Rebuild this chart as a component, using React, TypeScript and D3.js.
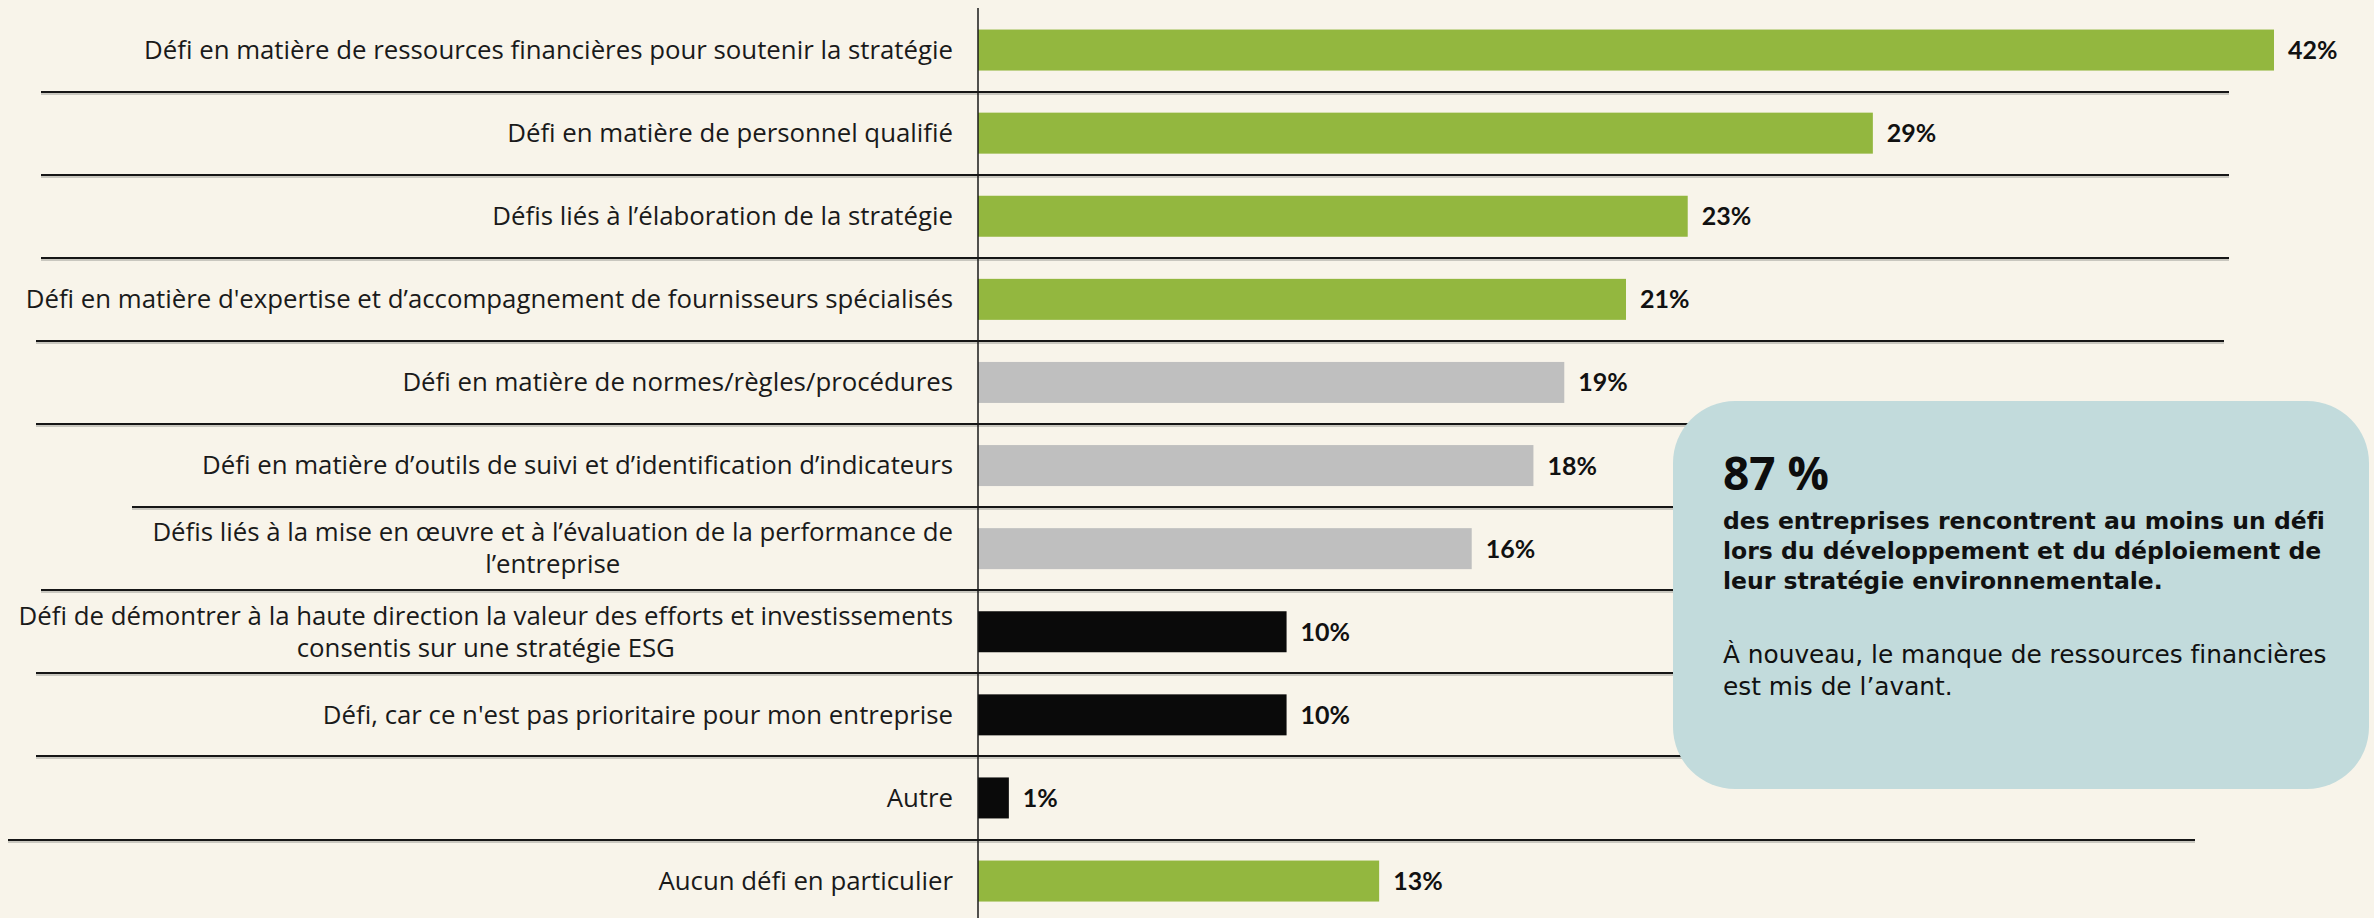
import React from "react";
import * as d3 from "d3";

const categories: string[] = [
  "Défi en matière de ressources financières pour soutenir la stratégie",
  "Défi en matière de personnel qualifié",
  "Défis liés à l’élaboration de la stratégie",
  "Défi en matière d'expertise et d’accompagnement de fournisseurs spécialisés",
  "Défi en matière de normes/règles/procédures",
  "Défi en matière d’outils de suivi et d’identification d’indicateurs",
  "Défis liés à la mise en œuvre et à l’évaluation de la performance de\nl’entreprise",
  "Défi de démontrer à la haute direction la valeur des efforts et investissements\nconsentis sur une stratégie ESG",
  "Défi, car ce n'est pas prioritaire pour mon entreprise",
  "Autre",
  "Aucun défi en particulier",
];
const values: number[] = [42, 29, 23, 21, 19, 18, 16, 10, 10, 1, 13];
const groups: string[] = ["main", "main", "main", "main", "mid", "mid", "mid", "low", "low", "low", "main"];

const calloutHeadline = "87 %";
const calloutBold: string[] = [
  "des entreprises rencontrent au moins un défi",
  "lors du développement et du déploiement de",
  "leur stratégie environnementale.",
];
const calloutRegular: string[] = [
  "À nouveau, le manque de ressources financières",
  "est mis de l’avant.",
];

const W = 2374;
const H = 918;
const BG = "#f8f4ea";
const colorMap: Record<string, string> = { main: "#93b73f", mid: "#bfbfbf", low: "#0a0a0a" };
const FONT = "'Open Sans', 'Noto Sans', sans-serif";
const VFONT = "Lato, 'Noto Sans', sans-serif";
const CFONT = "'DejaVu Sans', 'Open Sans', sans-serif";
const LABEL_SIZE = 25.8;

// separator styling (left starts / right ends)
const sepLeft = [41, 41, 41, 36, 36, 132, 41, 36, 36, 8];
const sepRight = [2229, 2229, 2229, 2224, 2224, 2224, 2224, 2224, 2224, 2195];

export default function App() {
  const axisX = 978;
  const x = d3.scaleLinear().domain([0, 42]).range([axisX, 2274]);
  const y = d3.scaleBand<string>().domain(categories).range([8.5, 922.6]).padding(0);
  const barH = 41;
  const labelRight = 953;

  return (
    <div style={{ position: "absolute", left: 0, top: 0, width: W, height: H, background: BG }}>
      <svg width={W} height={H} style={{ display: "block", fontVariantLigatures: "none" }} fontFamily={FONT}>
        <rect x={0} y={0} width={W} height={H} fill={BG} />
        {categories.slice(1).map((c, i) => {
          const yy = Math.round(y(c)!);
          return (
            <g key={"sep" + i}>
              <line x1={sepLeft[i]} x2={sepRight[i]} y1={yy + 2} y2={yy + 2} stroke="#9a9a94" strokeWidth={1} />
              <line x1={sepLeft[i]} x2={sepRight[i]} y1={yy} y2={yy} stroke="#161616" strokeWidth={2} />
            </g>
          );
        })}
        {categories.map((c, i) => {
          const cy = y(c)! + y.bandwidth() / 2;
          return (
            <g key={"bar" + i}>
              <rect x={axisX} y={cy - barH / 2} width={x(values[i]) - axisX} height={barH} fill={colorMap[groups[i]]} />
              <text x={x(values[i]) + 14} y={cy} dy="0.36em" fontSize={25} fontWeight={700} fill="#111" fontFamily={VFONT}>
                {values[i]}%
              </text>
            </g>
          );
        })}
        {categories.map((c, i) => {
          const cy = y(c)! + y.bandwidth() / 2;
          const lines = c.split("\n");
          if (lines.length === 1) {
            return (
              <text key={"lab" + i} x={labelRight} y={cy} dy="0.34em" textAnchor="end" fontSize={LABEL_SIZE} fill="#1a1a1a">
                {c}
              </text>
            );
          }
          return <MultiLabel key={"lab" + i} lines={lines} right={labelRight} cy={cy} />;
        })}
        <line x1={axisX} x2={axisX} y1={8} y2={H} stroke="#1a1a1a" strokeWidth={1.5} />
        <rect x={1673} y={401} width={696} height={388} rx={62} ry={62} fill="#c2dbdc" />
        <text x={1723} y={490} fontSize={46} fontWeight={700} fill="#0d0d0d">{calloutHeadline}</text>
        <text x={1723} y={529} fontSize={23.5} fontWeight={700} fill="#111" fontFamily={CFONT}>
          {calloutBold.map((t, i) => (
            <tspan key={"cb" + i} x={1723} dy={i === 0 ? 0 : 30}>{t}</tspan>
          ))}
        </text>
        <text x={1723} y={663} fontSize={24.8} fill="#111" fontFamily={CFONT}>
          {calloutRegular.map((t, i) => (
            <tspan key={"cr" + i} x={1723} dy={i === 0 ? 0 : 32}>{t}</tspan>
          ))}
        </text>
      </svg>
    </div>
  );
}

function MultiLabel({ lines, right, cy }: { lines: string[]; right: number; cy: number }) {
  const ref = React.useRef<SVGTextElement>(null);
  const [cx, setCx] = React.useState<number | null>(null);
  React.useLayoutEffect(() => {
    if (!ref.current) return;
    const spans = ref.current.querySelectorAll("tspan");
    let maxW = 0;
    spans.forEach((t) => {
      maxW = Math.max(maxW, (t as SVGTextContentElement).getComputedTextLength());
    });
    setCx(right - maxW / 2);
  }, [lines, right]);
  const lh = 32;
  const start = cy - ((lines.length - 1) * lh) / 2;
  return (
    <text
      ref={ref}
      y={start}
      textAnchor={cx === null ? "end" : "middle"}
      fontSize={LABEL_SIZE}
      fill="#1a1a1a"
    >
      {lines.map((l, j) => (
        <tspan key={j} x={cx ?? right} y={start + j * lh} dy="0.34em">
          {l}
        </tspan>
      ))}
    </text>
  );
}
